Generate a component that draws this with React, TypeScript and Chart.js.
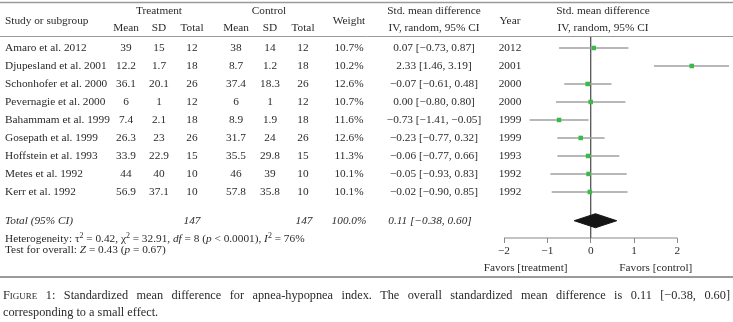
import React, { useEffect, useRef } from 'react';
import { Chart, registerables } from 'chart.js';

Chart.register(...registerables);

const studies = [
  'Amaro et al. 2012',
  'Djupesland et al. 2001',
  'Schonhofer et al. 2000',
  'Pevernagie et al. 2000',
  'Bahammam et al. 1999',
  'Gosepath et al. 1999',
  'Hoffstein et al. 1993',
  'Metes et al. 1992',
  'Kerr et al. 1992',
];
const years = [2012, 2001, 2000, 2000, 1999, 1999, 1993, 1992, 1992];
const tMean = [39, 12.2, 36.1, 6, 7.4, 26.3, 33.9, 44, 56.9];
const tSD = [15, 1.7, 20.1, 1, 2.1, 23, 22.9, 40, 37.1];
const tTotal = [12, 18, 26, 12, 18, 26, 15, 10, 10];
const cMean = [38, 8.7, 37.4, 6, 8.9, 31.7, 35.5, 46, 57.8];
const cSD = [14, 1.2, 18.3, 1, 1.9, 24, 29.8, 39, 35.8];
const cTotal = [12, 18, 26, 12, 18, 26, 15, 10, 10];
const weights = [10.7, 10.2, 12.6, 10.7, 11.6, 12.6, 11.3, 10.1, 10.1];
const smd = [0.07, 2.33, -0.07, 0.0, -0.73, -0.23, -0.06, -0.05, -0.02];
const ciLow = [-0.73, 1.46, -0.61, -0.8, -1.41, -0.77, -0.77, -0.93, -0.9];
const ciHigh = [0.87, 3.19, 0.48, 0.8, -0.05, 0.32, 0.66, 0.83, 0.85];
const totalTreat = 147;
const totalControl = 147;
const totalWeight = 100.0;
const totalSmd = 0.11;
const totalLow = -0.38;
const totalHigh = 0.6;
const xTicks = [-2, -1, 0, 1, 2];
const totalRow = 9.6;
const yMin = -0.61;
const yMax = 10.56;

const FONT = '"Liberation Serif", "Times New Roman", serif';
const TEXT = '#2a2a2a';
const LINE = '#9a9a9a';
const SIZE = 11.3;

const minus = (s: string) => s.replace(/-/g, '\u2212');
const f2 = (v: number) => minus(v.toFixed(2));

type Run = { t: string; i?: boolean; sup?: boolean };

function drawRuns(ctx: CanvasRenderingContext2D, x: number, y: number, runs: Run[], size: number) {
  let cx = x;
  ctx.textAlign = 'left';
  for (const r of runs) {
    const s = r.sup ? size * 0.7 : size;
    ctx.font = `${r.i ? 'italic ' : ''}${s}px ${FONT}`;
    ctx.fillText(r.t, cx, r.sup ? y - 4 : y);
    cx += ctx.measureText(r.t).width;
  }
}

const tablePlugin = {
  id: 'forestTable',
  afterDraw(chart: any) {
    const ctx: CanvasRenderingContext2D = chart.ctx;
    const ys = chart.scales.y;
    const xs = chart.scales.x;
    const W = chart.width;
    ctx.save();
    ctx.strokeStyle = LINE;
    ctx.lineWidth = 1.5;
    ctx.beginPath();
    ctx.moveTo(0, 2.5);
    ctx.lineTo(W, 2.5);
    ctx.stroke();
    ctx.lineWidth = 1;
    ctx.beginPath();
    ctx.moveTo(0, 36.5);
    ctx.lineTo(W, 36.5);
    ctx.stroke();
    ctx.lineWidth = 2;
    ctx.beginPath();
    ctx.moveTo(0, 277);
    ctx.lineTo(W, 277);
    ctx.stroke();

    ctx.fillStyle = TEXT;
    ctx.textBaseline = 'middle';
    const norm = `${SIZE}px ${FONT}`;
    const ital = `italic ${SIZE}px ${FONT}`;
    const put = (t: string, x: number, y: number, align: CanvasTextAlign = 'center', font = norm) => {
      ctx.font = font;
      ctx.textAlign = align;
      ctx.fillText(t, x, y);
    };
    put('Study or subgroup', 5, 21, 'left');
    put('Treatment', 159, 11);
    put('Control', 269, 11);
    put('Mean', 126, 28);
    put('SD', 159, 28);
    put('Total', 192, 28);
    put('Mean', 236, 28);
    put('SD', 270, 28);
    put('Total', 303, 28);
    put('Weight', 349, 21);
    put('Std. mean difference', 434, 11);
    put('IV, random, 95% CI', 434, 28);
    put('Year', 510, 21);
    put('Std. mean difference', 603, 11);
    put('IV, random, 95% CI', 603, 28);

    studies.forEach((s, i) => {
      const y = ys.getPixelForValue(i);
      put(s, 5, y, 'left');
      put(String(tMean[i]), 126, y);
      put(String(tSD[i]), 159, y);
      put(String(tTotal[i]), 192, y);
      put(String(cMean[i]), 236, y);
      put(String(cSD[i]), 270, y);
      put(String(cTotal[i]), 303, y);
      put(weights[i].toFixed(1) + '%', 349, y);
      put(`${f2(smd[i])} [${f2(ciLow[i])}, ${f2(ciHigh[i])}]`, 434, y);
      put(String(years[i]), 510, y);
    });
    const ty = ys.getPixelForValue(totalRow);
    put('Total (95% CI)', 5, ty, 'left', ital);
    put(String(totalTreat), 192, ty, 'center', ital);
    put(String(totalControl), 304, ty, 'center', ital);
    put(totalWeight.toFixed(1) + '%', 349, ty, 'center', ital);
    put(`${f2(totalSmd)} [${f2(totalLow)}, ${f2(totalHigh)}]`, 430, ty, 'center', ital);

    drawRuns(ctx, 5, 239.5, [
      { t: 'Heterogeneity: \u03c4' },
      { t: '2', sup: true },
      { t: ' = 0.42, \u03c7' },
      { t: '2', sup: true },
      { t: ' = 32.91, ' },
      { t: 'df', i: true },
      { t: ' = 8 (' },
      { t: 'p', i: true },
      { t: ' < 0.0001), ' },
      { t: 'I', i: true },
      { t: '2', sup: true },
      { t: ' = 76%' },
    ], SIZE);
    drawRuns(ctx, 5, 250, [
      { t: 'Test for overall: ' },
      { t: 'Z', i: true },
      { t: ' = 0.43 (' },
      { t: 'p', i: true },
      { t: ' = 0.67)' },
    ], SIZE);

    put('Favors [treatment]', xs.getPixelForValue(-1.5), 268);
    put('Favors [control]', xs.getPixelForValue(1.5), 268);
    ctx.restore();
  },
};

export default function App() {
  const ref = useRef<HTMLCanvasElement | null>(null);
  useEffect(() => {
    if (!ref.current) return;
    const ciSets = studies.map((s, i) => ({
      type: 'scatter' as const,
      label: s,
      data: [
        { x: ciLow[i], y: i },
        { x: ciHigh[i], y: i },
      ],
      showLine: true,
      borderColor: '#a0a0a0',
      borderWidth: 1.5,
      pointRadius: 0,
      clip: false as any,
      order: 2,
    }));
    const dh = 0.39;
    const chart = new Chart(ref.current, {
      type: 'scatter',
      data: {
        datasets: [
          {
            label: 'SMD',
            data: smd.map((v, i) => ({ x: v, y: i })),
            pointStyle: 'rect',
            pointRadius: 3.2,
            pointBackgroundColor: '#3cb94a',
            pointBorderWidth: 0,
            clip: false as any,
            order: 0,
          },
          ...ciSets,
          {
            label: 'zero',
            data: [
              { x: 0, y: yMin },
              { x: 0, y: yMax },
            ],
            showLine: true,
            borderColor: '#555',
            borderWidth: 1.3,
            pointRadius: 0,
            order: 3,
          },
          {
            label: 'axis',
            data: [
              { x: xTicks[0], y: yMax },
              { x: xTicks[xTicks.length - 1], y: yMax },
            ],
            showLine: true,
            borderColor: '#888',
            borderWidth: 1,
            pointRadius: 0,
            clip: false as any,
            order: 3,
          },
          {
            label: 'Total',
            data: [
              { x: totalLow, y: totalRow },
              { x: totalSmd, y: totalRow - dh },
              { x: totalHigh, y: totalRow },
              { x: totalSmd, y: totalRow + dh },
              { x: totalLow, y: totalRow },
            ],
            showLine: true,
            fill: 'shape' as any,
            backgroundColor: '#151515',
            borderColor: '#151515',
            borderWidth: 1,
            pointRadius: 0,
            tension: 0,
            order: 1,
          },
        ] as any,
      },
      options: {
        responsive: false,
        animation: false,
        layout: { padding: { left: 504, right: -4, top: 37, bottom: 64 } },
        plugins: { legend: { display: false }, tooltip: { enabled: false } },
        scales: {
          x: {
            type: 'linear',
            min: xTicks[0],
            max: Math.max(...ciHigh),
            afterBuildTicks: (s: any) => {
              s.ticks = xTicks.map((v) => ({ value: v }));
            },
            afterFit: (s: any) => {
              s.height = 20;
            },
            ticks: {
              callback: (v: any) => minus(String(v)),
              font: { family: FONT, size: SIZE },
              color: TEXT,
              padding: 1,
              maxRotation: 0,
              autoSkip: false,
            },
            grid: { drawOnChartArea: false, tickLength: 5, color: '#888', lineWidth: 1 },
            border: { display: false },
          },
          y: {
            type: 'linear',
            display: false,
            min: yMin,
            max: yMax,
            reverse: true,
          },
        },
      },
      plugins: [tablePlugin],
    });
    return () => chart.destroy();
  }, []);
  return (
    <div style={{ position: 'fixed', left: 0, top: 0, width: 733, height: 322, background: '#fff' }}>
      <canvas ref={ref} width={733} height={322} style={{ position: 'absolute', left: 0, top: 0 }} />
      <div
        style={{
          position: 'absolute',
          left: 3,
          top: 287,
          width: 727,
          font: `12.3px ${FONT}`,
          lineHeight: '17px',
          color: TEXT,
        }}
      >
        <div style={{ textAlign: 'justify', textAlignLast: 'justify' as any, whiteSpace: 'nowrap' as any }}>
          <span style={{ fontVariant: 'small-caps' }}>Figure 1:</span> Standardized mean difference for apnea-hypopnea index. The overall standardized mean difference is 0.11 [{'\u2212'}0.38, 0.60]
        </div>
        <div>corresponding to a small effect.</div>
      </div>
    </div>
  );
}
